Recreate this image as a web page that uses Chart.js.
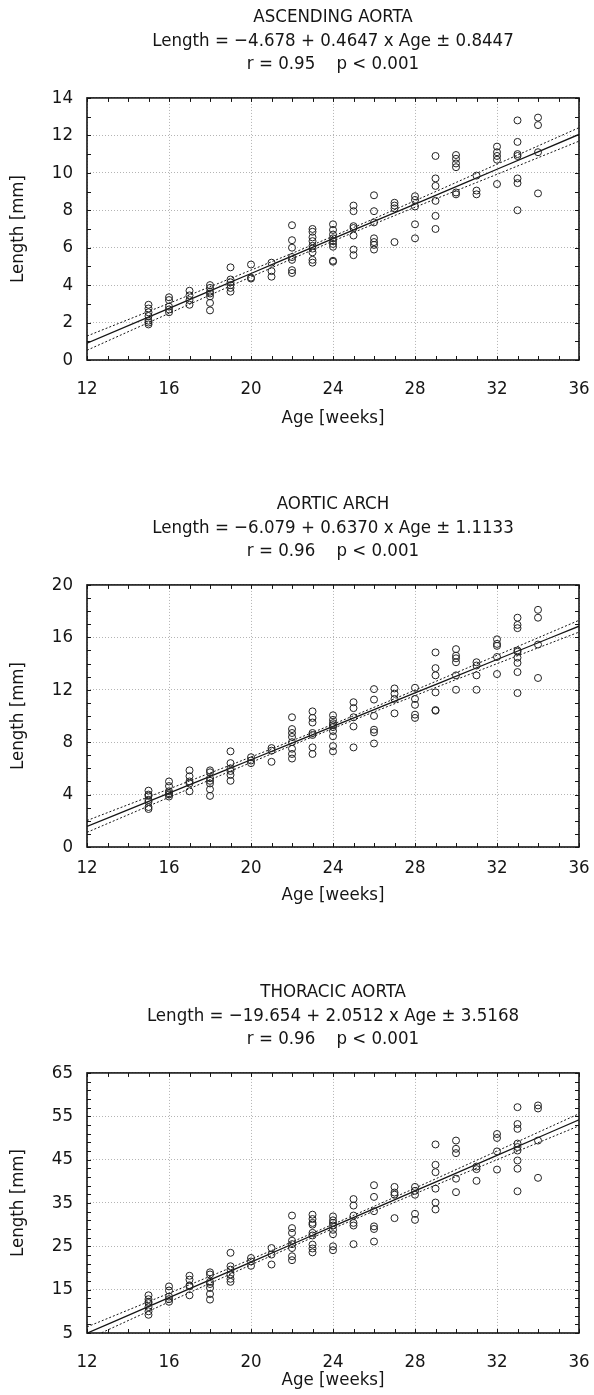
<!DOCTYPE html>
<html>
<head>
<meta charset="utf-8">
<script src="https://cdn.jsdelivr.net/npm/chart.js@4.4.0/dist/chart.umd.min.js"></script>
<style>
body { margin: 0; background: #fff; width: 594px; height: 1395px; position: relative; overflow: hidden; }
canvas { position: absolute; left: 0; }
</style>
</head>
<body>
<canvas id="c1" width="594" height="440" style="top:0px"></canvas>
<canvas id="c2" width="594" height="440" style="top:487px"></canvas>
<canvas id="c3" width="594" height="420" style="top:975px"></canvas>
<script>
// gestational age groups (weeks)
const ages = [15, 16, 17, 18, 19, 20, 21, 22, 23, 24, 25, 26, 27, 28, 29, 30, 31, 32, 33, 34];

// measured lengths [mm], one list per age
const ascending = [
  [2.95, 2.75, 2.55, 2.35, 2.1, 2.0, 1.9],
  [3.35, 3.2, 2.85, 2.7, 2.55],
  [3.7, 3.45, 3.2, 2.95],
  [4.0, 3.85, 3.65, 3.55, 3.4, 3.05, 2.65],
  [4.95, 4.3, 4.15, 4.0, 3.85, 3.65],
  [5.1, 4.4, 4.35],
  [5.2, 4.75, 4.45],
  [7.2, 6.4, 6.0, 5.5, 5.35, 4.8, 4.65],
  [7.0, 6.85, 6.55, 6.35, 6.1, 5.95, 5.75, 5.35, 5.2],
  [7.25, 6.95, 6.7, 6.5, 6.35, 6.2, 6.05, 5.3, 5.25],
  [8.25, 7.95, 7.15, 7.05, 6.65, 5.9, 5.6],
  [8.8, 7.95, 7.35, 6.5, 6.3, 6.15, 5.9],
  [8.4, 8.25, 8.1, 6.3],
  [8.75, 8.55, 8.2, 7.25, 6.5],
  [10.9, 9.7, 9.3, 8.5, 7.7, 7.0],
  [10.95, 10.75, 10.5, 10.3, 8.95, 8.85],
  [9.85, 9.05, 8.85],
  [11.4, 11.1, 10.9, 10.7, 9.4],
  [12.8, 11.65, 11.0, 10.9, 9.7, 9.45, 8.0],
  [12.95, 12.55, 11.1, 8.9]
];
const arch = [
  [4.3, 4.0, 3.9, 3.6, 3.45, 3.05, 2.9],
  [5.0, 4.65, 4.25, 4.1, 4.0, 3.85],
  [5.85, 5.4, 5.0, 4.85, 4.25],
  [5.85, 5.7, 5.25, 5.05, 4.85, 4.4, 3.9],
  [7.3, 6.4, 6.0, 5.8, 5.5, 5.05],
  [6.85, 6.6, 6.4],
  [7.55, 7.35, 6.5],
  [9.9, 9.0, 8.7, 8.4, 8.0, 7.5, 7.1, 6.75],
  [10.35, 9.85, 9.5, 8.7, 8.55, 7.6, 7.1],
  [10.05, 9.7, 9.45, 9.3, 9.15, 8.85, 8.45, 7.7, 7.3],
  [11.05, 10.6, 9.9, 9.2, 7.6],
  [12.05, 11.25, 10.0, 8.95, 8.75, 7.9],
  [12.1, 11.7, 11.3, 10.2],
  [12.15, 11.3, 10.85, 10.1, 9.85],
  [14.85, 13.65, 13.1, 11.8, 10.45, 10.4],
  [15.1, 14.6, 14.4, 14.1, 13.1, 12.0],
  [14.1, 13.85, 13.1, 12.0],
  [15.85, 15.5, 15.35, 14.5, 13.2],
  [17.5, 16.95, 16.7, 15.0, 14.9, 14.45, 14.05, 13.35, 11.75],
  [18.1, 17.5, 15.45, 12.9]
];
const thoracic = [
  [13.7, 12.8, 12.2, 11.9, 11.0, 10.0, 9.2],
  [15.75, 14.8, 13.4, 12.8, 12.2],
  [18.2, 17.3, 16.0, 15.75, 13.7],
  [19.0, 18.5, 16.8, 16.3, 15.4, 14.0, 12.7],
  [23.5, 20.4, 19.6, 18.5, 17.5, 16.8],
  [22.3, 21.5, 20.5],
  [24.6, 23.1, 20.8],
  [32.1, 29.2, 28.1, 26.3, 25.5, 24.6, 22.7, 21.8],
  [32.3, 31.3, 30.4, 30.0, 28.1, 27.5, 25.4, 24.5, 23.6],
  [31.9, 31.0, 30.4, 29.8, 28.8, 27.8, 25.0, 24.1],
  [35.9, 34.4, 32.1, 30.4, 29.8, 25.5],
  [39.1, 36.4, 33.1, 29.6, 29.0, 26.1],
  [38.7, 37.4, 36.9, 31.5],
  [38.7, 37.8, 36.9, 32.5, 31.1],
  [48.5, 43.8, 42.1, 38.3, 35.1, 33.5],
  [49.4, 47.5, 46.5, 40.6, 37.5],
  [43.4, 42.8, 40.1],
  [50.9, 50.0, 46.9, 42.7],
  [57.1, 53.2, 52.1, 48.7, 47.9, 47.1, 44.8, 42.9, 37.7],
  [57.5, 56.8, 49.4, 40.8]
];

// regression line and 95% band, read at these ages
const bandAges = [12, 16, 20, 24, 28, 32, 36];
const ascFit = [0.90, 2.76, 4.62, 6.48, 8.33, 10.19, 12.05];
const ascUpper = [1.28, 3.03, 4.80, 6.61, 8.51, 10.46, 12.41];
const ascLower = [0.52, 2.49, 4.44, 6.35, 8.16, 9.92, 11.69];
const archFit = [1.57, 4.11, 6.66, 9.21, 11.76, 14.31, 16.85];
const archUpper = [2.02, 4.43, 6.87, 9.37, 11.97, 14.63, 17.30];
const archLower = [1.12, 3.79, 6.45, 9.05, 11.55, 13.99, 16.40];
const thorFit = [4.96, 13.17, 21.37, 29.58, 37.78, 45.98, 54.19];
const thorUpper = [6.41, 14.17, 22.02, 30.08, 38.43, 46.98, 55.59];
const thorLower = [3.51, 12.17, 20.72, 29.08, 37.13, 44.98, 52.79];

const titles = [
  ['ASCENDING AORTA', 'Length = \u22124.678 + 0.4647 x Age \u00b1 0.8447', 'r = 0.95    p < 0.001'],
  ['AORTIC ARCH', 'Length = \u22126.079 + 0.6370 x Age \u00b1 1.1133', 'r = 0.96    p < 0.001'],
  ['THORACIC AORTA', 'Length = \u221219.654 + 2.0512 x Age \u00b1 3.5168', 'r = 0.96    p < 0.001']
];

const FONT = "'DejaVu Sans Condensed', 'Liberation Sans Narrow', sans-serif";
const INK = '#151515';

// box frame with small inward ticks on all four sides
const frameTicks = {
  id: 'frameTicks',
  afterDatasetsDraw(chart, args, o) {
    const { ctx, chartArea: a, scales: { x, y } } = chart;
    ctx.save();
    ctx.strokeStyle = INK;
    ctx.lineWidth = 1;
    ctx.beginPath();
    for (let v = x.min; v <= x.max + 1e-9; v += o.xMinor) {
      const px = Math.round(x.getPixelForValue(v)) + 0.5;
      ctx.moveTo(px, a.bottom); ctx.lineTo(px, a.bottom - 4);
      ctx.moveTo(px, a.top); ctx.lineTo(px, a.top + 4);
    }
    for (let v = y.min; v <= y.max + 1e-9; v += o.yMinor) {
      const py = Math.round(y.getPixelForValue(v)) + 0.5;
      ctx.moveTo(a.left, py); ctx.lineTo(a.left + 4, py);
      ctx.moveTo(a.right, py); ctx.lineTo(a.right - 4, py);
    }
    ctx.stroke();
    ctx.lineWidth = 1.6;
    ctx.strokeRect(a.left, a.top, a.right - a.left, a.bottom - a.top);
    ctx.restore();
  }
};

function points(values) {
  return ages.flatMap((a, i) => values[i].map(v => ({ x: a, y: v })));
}
function curve(values) {
  return bandAges.map((a, i) => ({ x: a, y: values[i] }));
}

function makeChart(id, title, values, fit, upper, lower, yAxis, xAxis) {
  const lineBase = { showLine: true, pointRadius: 0, borderColor: INK, fill: false, cubicInterpolationMode: 'monotone' };
  return new Chart(document.getElementById(id), {
    type: 'scatter',
    data: {
      datasets: [
        { data: points(values), pointRadius: 3.5, pointBorderWidth: 1, borderColor: '#222', backgroundColor: 'rgba(0,0,0,0)' },
        { ...lineBase, data: curve(fit), borderWidth: 1.3 },
        { ...lineBase, data: curve(upper), borderWidth: 1, borderDash: [2, 2] },
        { ...lineBase, data: curve(lower), borderWidth: 1, borderDash: [2, 2] }
      ]
    },
    options: {
      responsive: false,
      animation: false,
      layout: { padding: { left: 0, right: 15, top: 0, bottom: 0 } },
      plugins: {
        legend: { display: false },
        tooltip: { enabled: false },
        title: {
          display: true, text: title, color: INK, fullSize: false,
          font: { family: FONT, size: 18.5, weight: 'normal', lineHeight: 1.26 },
          padding: { top: 6, bottom: 22 }
        },
        frameTicks: { xMinor: 1, yMinor: yAxis.minor }
      },
      scales: {
        x: {
          type: 'linear', min: 12, max: 36,
          afterFit: s => { s.height = xAxis.height; s.paddingLeft = 0; s.paddingRight = 0; },
          ticks: { stepSize: 4, color: INK, padding: xAxis.tickPad, font: { family: FONT, size: 18.5, lineHeight: 1.2 } },
          grid: { color: '#b4b4b4', lineWidth: 1, drawTicks: false },
          border: { display: false, dash: [1, 2] },
          title: { display: true, text: 'Age [weeks]', color: INK, padding: { top: 0, bottom: xAxis.titlePad }, font: { family: FONT, size: 18.5, lineHeight: 1.2 } }
        },
        y: {
          type: 'linear', min: yAxis.min, max: yAxis.max,
          afterFit: s => { s.width = 87; },
          ticks: { stepSize: yAxis.step, color: INK, padding: 14, font: { family: FONT, size: 18.5, lineHeight: 1.2 } },
          grid: { color: '#b4b4b4', lineWidth: 1, drawTicks: false },
          border: { display: false, dash: [1, 2] },
          title: { display: true, text: 'Length [mm]', color: INK, padding: { top: 7, bottom: 0 }, font: { family: FONT, size: 18.5, lineHeight: 1.2 } }
        }
      }
    },
    plugins: [frameTicks]
  });
}

makeChart('c1', titles[0], ascending, ascFit, ascUpper, ascLower,
  { min: 0, max: 14, step: 2, minor: 1 }, { height: 80, tickPad: 18, titlePad: 11 });
makeChart('c2', titles[1], arch, archFit, archUpper, archLower,
  { min: 0, max: 20, step: 4, minor: 1 }, { height: 80, tickPad: 10, titlePad: 21 });
makeChart('c3', titles[2], thoracic, thorFit, thorUpper, thorLower,
  { min: 5, max: 65, step: 10, minor: 2 }, { height: 62, tickPad: 18, titlePad: 4 });
</script>
</body>
</html>
